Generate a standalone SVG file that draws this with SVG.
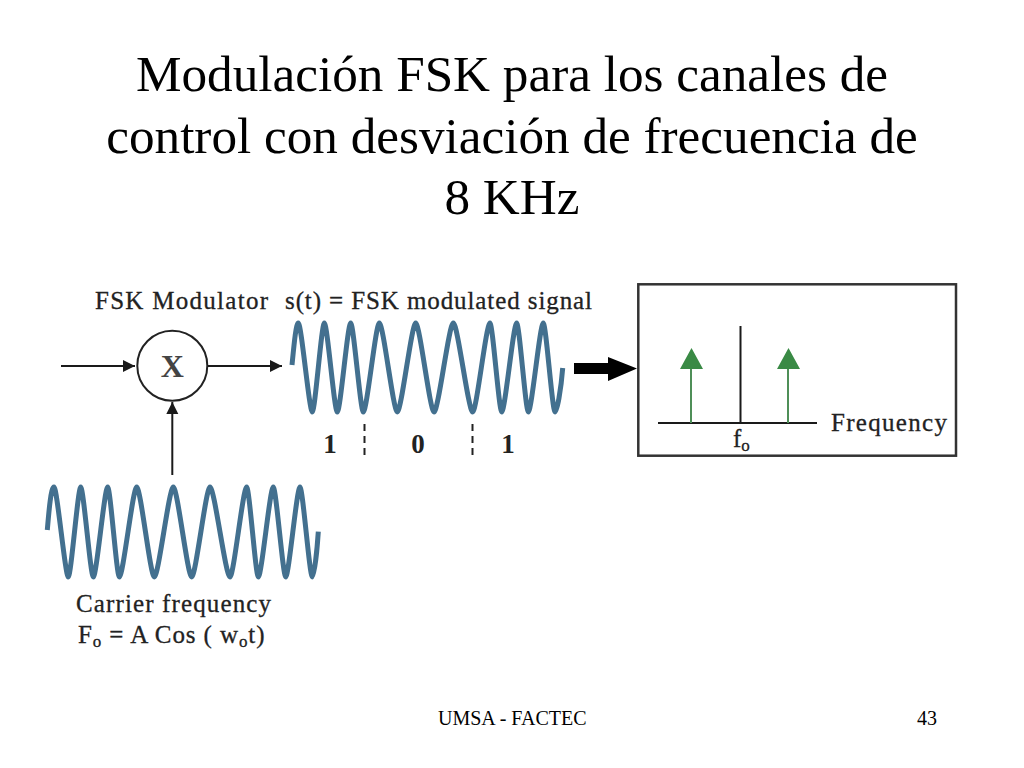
<svg xmlns="http://www.w3.org/2000/svg" width="1024" height="768" viewBox="0 0 1024 768">
<style>
.title{font:51.2px "Liberation Serif",serif;fill:#000;text-anchor:middle}
.foot{font:20px "Liberation Serif",serif;fill:#000}
.lbl{font:25px "Liberation Serif",serif;fill:#222;stroke:#222;stroke-width:.3}
.bit{font:bold 27px "Liberation Serif",serif;fill:#222;text-anchor:middle}
.sub{font-size:17px}
.wave{fill:none;stroke:#43708f;stroke-width:5;stroke-linejoin:round}
.ln{stroke:#1a1a1a;stroke-width:2;fill:none}
.gr{stroke:#4f8f58;stroke-width:2;fill:none}
.dash{stroke:#222;stroke-width:2;stroke-dasharray:7 5;fill:none}
</style>
<defs>
<marker id="ah" markerUnits="userSpaceOnUse" markerWidth="14" markerHeight="14" refX="12" refY="6" orient="auto"><path d="M0 0L12 6L0 12Z" fill="#1a1a1a"/></marker>
</defs>
<rect width="1024" height="768" fill="#fff"/>
<g id="title">
<text class="title" x="512" y="90.500">Modulación FSK para los canales de</text>
<text class="title" x="512" y="153">control con desviación de frecuencia de</text>
<text class="title" x="512" y="213.500">8 KHz</text>
</g>
<g id="modulator-label"><text class="lbl" x="95" y="309" textLength="173">FSK Modulator</text></g>
<g id="signal-label"><text class="lbl" x="285" y="309" textLength="307">s(t) = FSK  modulated signal</text></g>
<g id="mixer">
<circle cx="172.3" cy="365.7" r="35" fill="#fff" stroke="#222" stroke-width="2"/>
<text x="172.3" y="376.500" font-family="Liberation Serif, serif" font-size="32" font-weight="bold" fill="#444" text-anchor="middle">X</text>
</g>
<g id="signal-wave">
<path class="wave" d="M292 365C294 345 296 323 298.3 323C301.3 323 309.3 412 312.3 412C315 412 321.6 323 324.3 323C327.3 323 334.3 412 337.3 412C340.3 412 347.7 323 350.7 323C353.5 323 360.5 412 363.3 412C366.8 412 375.8 323 379.3 323C383.3 323 393.3 412 397.3 412C401.3 412 411.7 323 415.7 323C419.7 323 430 412 434 412C438.3 412 449 323 453.3 323C457.6 323 468.4 412 472.7 412C476.5 412 486.2 323 490 323C492.6 323 499.1 412 501.7 412C505 412 513.4 323 516.7 323C519.3 323 525.7 412 528.3 412C531.6 412 540 323 543.3 323C545.9 323 552.4 412 555 412C557 412 561 390 562.7 368"/>
</g>
<g id="bits">
<text class="bit" x="330" y="453">1</text>
<text class="bit" x="418" y="453">0</text>
<text class="bit" x="508" y="453">1</text>
<path class="dash" d="M364.500 424V460M472.500 424V460"/>
</g>
<g id="carrier-wave">
<path class="wave" d="M47.300 530C49 510 51 487 54 487C57 487 65.300 577 68.300 577C71 577 78 487 80.700 487C83.500 487 90.500 577 93.300 577C96.500 577 104.500 487 107.700 487C110.300 487 116.700 577 119.300 577C123.100 577 132.900 487 136.700 487C140.600 487 150.400 577 154.300 577C158.500 577 169.100 487 173.300 487C177.400 487 187.600 577 191.700 577C195.700 577 206 487 210 487C214.400 487 225.600 577 230 577C233.700 577 243 487 246.700 487C249.300 487 255.700 577 258.300 577C261.600 577 270 487 273.300 487C276 487 283 577 285.700 577C288.800 577 296.800 487 300 487C302.700 487 309.600 577 312.300 577C314 577 317 552 318.300 531.700"/>
</g>
<g id="carrier-label">
<text class="lbl" x="76" y="612" textLength="195">Carrier frequency</text>
<text class="lbl" x="78" y="643" letter-spacing=".9">F<tspan class="sub" dy="4">o</tspan><tspan dy="-4"> = A Cos ( w</tspan><tspan class="sub" dy="4">o</tspan><tspan dy="-4">t)</tspan></text>
</g>
<g id="connectors">
<path class="ln" d="M61 366H135" marker-end="url(#ah)"/>
<path class="ln" d="M208 366H282" marker-end="url(#ah)"/>
<path class="ln" d="M172.300 475V402" marker-end="url(#ah)"/>
<path d="M574 363H608V357L637 368.500L608 381V374H574Z" fill="#000"/>
</g>
<g id="spectrum">
<rect x="638.300" y="284.300" width="317.700" height="171.400" fill="#fff" stroke="#333" stroke-width="2.500"/>
<path class="ln" d="M658 423H817M740.500 326V423"/>
<path class="gr" d="M691 423V368M788 423V368"/>
<path d="M691.500 348L703 369H680Z M788.500 348L800 369H777Z" fill="#3a8a45"/>
<text class="lbl" x="831" y="431" textLength="116">Frequency</text>
<text class="lbl" x="733" y="447">f<tspan class="sub" dy="4">o</tspan></text>
</g>
<g id="footer">
<text class="foot" x="438" y="725">UMSA - FACTEC</text>
<text class="foot" x="917" y="725">43</text>
</g>
</svg>
